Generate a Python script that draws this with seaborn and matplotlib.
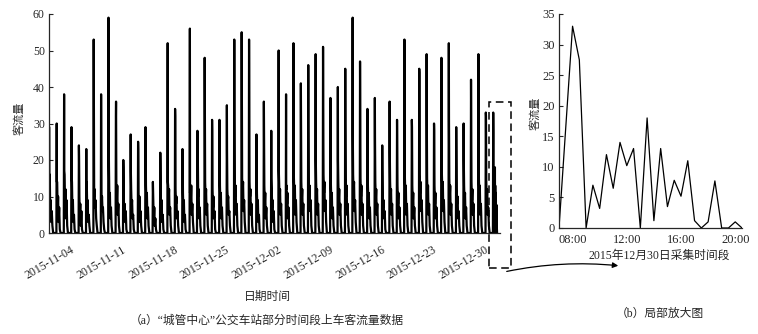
import pandas as pd
import matplotlib
matplotlib.use("Agg")
import matplotlib.pyplot as plt
import matplotlib.dates as mdates
from matplotlib.patches import Rectangle, FancyArrowPatch
import seaborn as sns

# Daily sample slots (hh:mm) used for the long series
slots = ["07:00", "08:00", "08:30", "09:30", "11:00", "12:30", "14:00", "16:00", "18:00", "20:30"]

# One row per day, 2015-10-31 .. 2015-12-29
day_rows = [
    [29, 29, 7, 16, 5, 9, 3, 6, 2, 0],
    [0, 30, 14, 14, 6, 10, 3, 7, 1, 0],
    [0, 38, 17, 16, 8, 12, 4, 9, 2, 0],
    [0, 29, 15, 14, 6, 9, 3, 5, 1, 0],
    [0, 24, 21, 10, 5, 8, 2, 6, 1, 0],
    [0, 23, 12, 14, 6, 9, 3, 5, 2, 0],
    [0, 53, 40, 10, 12, 7, 9, 4, 2, 0],
    [0, 38, 28, 8, 10, 6, 7, 3, 1, 0],
    [0, 59, 29, 18, 8, 11, 4, 7, 2, 0],
    [0, 32, 36, 12, 9, 13, 5, 8, 2, 0],
    [0, 20, 18, 10, 5, 8, 3, 6, 1, 0],
    [0, 27, 17, 12, 7, 9, 4, 5, 1, 0],
    [0, 25, 23, 11, 6, 10, 3, 6, 2, 0],
    [0, 29, 27, 13, 8, 11, 4, 7, 2, 0],
    [0, 14, 12, 8, 4, 7, 2, 4, 1, 0],
    [0, 22, 19, 10, 6, 9, 3, 5, 1, 0],
    [0, 52, 14, 13, 9, 12, 5, 7, 2, 0],
    [0, 34, 32, 12, 8, 10, 4, 6, 2, 0],
    [0, 23, 22, 11, 6, 9, 3, 5, 1, 0],
    [0, 56, 11, 12, 9, 13, 5, 8, 3, 0],
    [0, 21, 28, 23, 10, 12, 4, 7, 2, 0],
    [0, 48, 38, 14, 9, 12, 5, 8, 2, 0],
    [0, 31, 28, 12, 7, 10, 4, 6, 1, 0],
    [0, 31, 27, 13, 8, 11, 4, 7, 2, 0],
    [0, 35, 23, 12, 9, 10, 5, 6, 2, 0],
    [0, 53, 32, 14, 10, 13, 5, 8, 2, 0],
    [0, 55, 41, 15, 11, 14, 6, 9, 3, 0],
    [0, 53, 39, 14, 10, 12, 5, 8, 2, 0],
    [0, 27, 20, 11, 6, 9, 3, 5, 1, 0],
    [0, 36, 26, 13, 8, 11, 4, 7, 2, 0],
    [0, 28, 15, 12, 7, 9, 3, 6, 1, 0],
    [0, 50, 17, 14, 9, 12, 5, 8, 2, 0],
    [0, 38, 12, 13, 8, 11, 4, 7, 2, 0],
    [0, 52, 18, 15, 10, 13, 5, 9, 3, 0],
    [0, 41, 30, 14, 9, 12, 5, 8, 2, 0],
    [0, 46, 30, 15, 10, 13, 6, 9, 2, 0],
    [0, 49, 20, 14, 9, 12, 5, 8, 2, 0],
    [0, 51, 35, 16, 11, 14, 6, 9, 3, 0],
    [0, 37, 18, 13, 8, 11, 4, 7, 2, 0],
    [0, 40, 20, 14, 9, 12, 5, 8, 2, 0],
    [0, 45, 30, 15, 10, 13, 5, 8, 2, 0],
    [0, 59, 27, 16, 11, 14, 6, 9, 3, 0],
    [0, 47, 38, 15, 10, 13, 5, 8, 2, 0],
    [0, 34, 22, 13, 8, 11, 4, 7, 2, 0],
    [0, 37, 26, 14, 9, 12, 5, 8, 2, 0],
    [0, 24, 18, 11, 7, 9, 4, 6, 1, 0],
    [0, 36, 22, 14, 9, 12, 5, 8, 2, 0],
    [0, 31, 24, 13, 8, 11, 4, 7, 2, 0],
    [0, 53, 20, 15, 10, 13, 5, 8, 2, 0],
    [0, 31, 29, 13, 8, 11, 4, 7, 2, 0],
    [0, 45, 44, 16, 11, 14, 6, 9, 3, 0],
    [0, 49, 32, 15, 10, 13, 5, 8, 2, 0],
    [0, 30, 28, 13, 8, 11, 4, 7, 2, 0],
    [0, 48, 44, 16, 11, 14, 6, 9, 3, 0],
    [0, 52, 31, 15, 10, 13, 5, 8, 2, 0],
    [0, 29, 24, 12, 8, 10, 4, 6, 2, 0],
    [0, 30, 20, 13, 8, 11, 4, 7, 2, 0],
    [0, 42, 30, 14, 9, 12, 5, 8, 2, 0],
    [0, 49, 37, 15, 10, 13, 5, 8, 2, 0],
    [0, 33, 32, 14, 9, 12, 5, 7, 2, 0],
]

# 2015-12-30, every half hour (zoomed panel)
dec30_times = ["07:00", "07:30", "08:00", "08:30", "09:00", "09:30", "10:00",
               "10:30", "11:00", "11:30", "12:00", "12:30", "13:00", "13:30",
               "14:00", "14:30", "15:00", "15:30", "16:00", "16:30", "17:00",
               "17:30", "18:00", "18:30", "19:00", "19:30", "20:00", "20:30"]
dec30_flow = [0, 16.5, 33, 27.5, 0, 7, 3.2, 12, 6.5, 14, 10.2, 13, 0, 18,
              1.2, 13, 3.5, 7.8, 5.2, 11, 1.2, 0, 1, 7.7, 0, 0, 1, 0]

# build the tables
recs = []
start = pd.Timestamp("2015-10-31")
for i, vals in enumerate(day_rows):
    day = start + pd.Timedelta(days=i)
    for s, v in zip(slots, vals):
        recs.append((day + pd.Timedelta(s + ":00"), v))
dec30 = pd.DataFrame({
    "time": [pd.Timestamp("2015-12-30 " + t) for t in dec30_times],
    "flow": dec30_flow,
})
full = pd.concat([pd.DataFrame(recs, columns=["time", "flow"]), dec30], ignore_index=True)

sns.set_style("ticks")
plt.rcParams["font.family"] = ["Liberation Serif", "Noto Sans CJK SC"]
plt.rcParams["axes.linewidth"] = 0.9

W, H = 758, 334
fig = plt.figure(figsize=(W / 100, H / 100), dpi=100)
ax1 = fig.add_axes([49 / W, 101 / H, 451 / W, 219 / H])
ax2 = fig.add_axes([559 / W, 106 / H, 183 / W, 214 / H])

# (a) long series
sns.lineplot(data=full, x="time", y="flow", ax=ax1, color="black", lw=1.6, estimator=None)
ax1.set_ylim(0, 60)
ax1.set_xlim(full["time"].min(), pd.Timestamp("2015-12-31 06:00"))
ax1.xaxis.set_major_locator(mdates.WeekdayLocator(byweekday=mdates.WE))
ax1.xaxis.set_major_formatter(mdates.DateFormatter("%Y-%m-%d"))
ax1.tick_params(axis="y", direction="in", length=3, labelsize=8.5, pad=3)
ax1.tick_params(axis="x", length=0, labelsize=8.5, pad=8)
for lab in ax1.get_xticklabels():
    lab.set_rotation(30)
    lab.set_ha("right")
ax1.set_xlabel("")
ax1.set_ylabel("")
sns.despine(ax=ax1)

# (b) zoom on 2015-12-30
sns.lineplot(data=dec30, x="time", y="flow", ax=ax2, color="black", lw=0.9, estimator=None)
ax2.set_ylim(0, 35)
ax2.set_xlim(dec30["time"].min(), dec30["time"].max())
ax2.xaxis.set_major_locator(mdates.HourLocator(byhour=[8, 12, 16, 20]))
ax2.xaxis.set_major_formatter(mdates.DateFormatter("%H:%M"))
ax2.tick_params(axis="y", direction="in", length=3, labelsize=9, pad=3)
ax2.tick_params(axis="x", length=0, labelsize=9, pad=4)
ax2.set_xlabel("")
ax2.set_ylabel("")
sns.despine(ax=ax2)

# labels and captions
def fx(x):
    return x / W

def fy(y):
    return 1 - y / H

fig.text(fx(19), fy(118), "客流量", rotation=90, ha="center", va="center", fontsize=8)
fig.text(fx(535), fy(113), "客流量", rotation=90, ha="center", va="center", fontsize=8)
fig.text(fx(267), fy(297), "日期时间", ha="center", va="center", fontsize=8.5)
fig.text(fx(659), fy(256), "2015年12月30日采集时间段", ha="center", va="center", fontsize=8.5)
fig.text(fx(267), fy(321), "（a）“城管中心”公交车站部分时间段上车客流量数据",
         ha="center", va="center", fontsize=8.5)
fig.text(fx(660), fy(314), "（b）局部放大图", ha="center", va="center", fontsize=8.5)

# dashed box around the zoomed day and the arrow to panel (b)
box = Rectangle((fx(489), fy(268)), 22 / W, 166 / H, transform=fig.transFigure,
                fill=False, ec="black", lw=1.1, ls=(0, (5, 3)))
fig.add_artist(box)
arrow = FancyArrowPatch((fx(504), fy(272)), (fx(621), fy(266)), transform=fig.transFigure,
                        connectionstyle="arc3,rad=-0.08", arrowstyle="-|>",
                        mutation_scale=8, lw=0.9, color="black")
fig.add_artist(arrow)

fig.savefig("out.png", dpi=100)
